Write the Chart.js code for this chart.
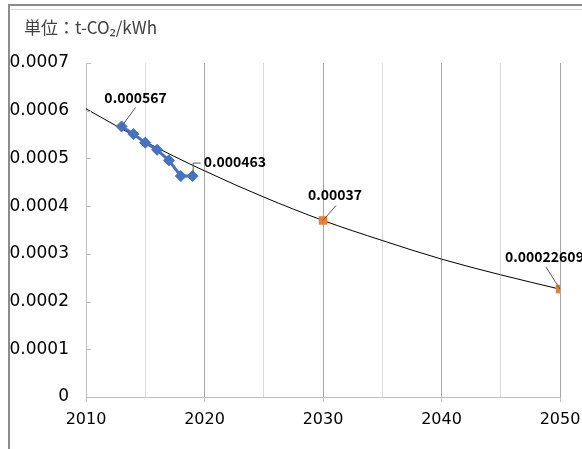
<!DOCTYPE html>
<html>
<head>
<meta charset="utf-8">
<script src="https://cdn.jsdelivr.net/npm/chart.js@4/dist/chart.umd.min.js"></script>
<style>
html,body{margin:0;padding:0;background:#fff;}
#wrap{position:relative;width:582px;height:449px;}
</style>
</head>
<body>
<div id="wrap"><canvas id="c" width="582" height="449"></canvas></div>
<script>
// Actual emission factors (blue diamonds)
const actualYears = [2013, 2014, 2015, 2016, 2017, 2018, 2019];
const actualValues = [0.000567, 0.000551, 0.000533, 0.000518, 0.000496, 0.000463, 0.000463];
// Target values (orange squares)
const targetYears = [2030, 2050];
const targetValues = [0.00037, 0.00022609];
// Trend curve
const trendYears = [2010, 2015, 2020, 2025, 2030, 2035, 2040, 2045, 2050];
const trendValues = [0.000604, 0.000535, 0.000474, 0.000419, 0.000370, 0.000328, 0.000289, 0.000256, 0.000226];
// Axis ticks
const yTicks = [0, 0.0001, 0.0002, 0.0003, 0.0004, 0.0005, 0.0006, 0.0007];
const xTickLabels = [2010, 2020, 2030, 2040, 2050];
// Data labels
const labelTexts = ['0.000567', '0.000463', '0.00037', '0.00022609'];
const unitTitle = '単位：t-CO₂/kWh';

const toXY = (xs, ys) => xs.map((x, i) => ({x: x, y: ys[i]}));

const FONT = "'Noto Sans CJK JP', 'Noto Sans', sans-serif";

const overlay = {
  id: 'overlay',
  beforeDraw(chart) {
    const c = chart.ctx;
    c.save();
    c.fillStyle = '#fff';
    c.fillRect(0, 0, chart.width, chart.height);
    // frame
    c.fillStyle = '#8c8c8c';
    c.fillRect(9, 4, chart.width - 9, 2);
    c.fillRect(8, 4, 2, chart.height - 4);
    c.fillStyle = '#d9d9d9';
    c.fillRect(11, 9, chart.width - 11, 1);
    c.restore();
  },
  afterDraw(chart) {
    const c = chart.ctx;
    const xs = chart.scales.x, ys = chart.scales.y;
    c.save();
    // title
    c.fillStyle = '#404040';
    c.font = "17px " + FONT;
    c.textBaseline = 'middle';
    c.textAlign = 'left';
    c.fillText(unitTitle, 24, 28);
    // y tick marks (inward)
    c.strokeStyle = '#bfbfbf';
    c.lineWidth = 1;
    yTicks.forEach(v => {
      const py = Math.round(ys.getPixelForValue(v)) + 0.5;
      c.beginPath();
      c.moveTo(xs.left, py);
      c.lineTo(xs.left + 5, py);
      c.stroke();
    });
    // data labels
    c.font = "bold 14px " + FONT;
    c.fillStyle = '#000';
    c.strokeStyle = '#595959';
    c.lineWidth = 1;
    const pt = (x, y) => [xs.getPixelForValue(x), ys.getPixelForValue(y)];
    // 0.000567
    let [px, py] = pt(actualYears[0], actualValues[0]);
    c.beginPath(); c.moveTo(px, py); c.lineTo(px + 14, py - 19); c.stroke();
    c.textAlign = 'center'; c.textBaseline = 'middle';
    c.fillText(labelTexts[0], px + 14, py - 29);
    // 0.000463
    [px, py] = pt(actualYears[6], actualValues[6]);
    c.beginPath(); c.moveTo(px + 0.5, py - 3); c.lineTo(px + 0.5, py - 13); c.lineTo(px + 8, py - 13); c.stroke();
    c.textAlign = 'left';
    c.fillText(labelTexts[1], px + 11, py - 14);
    // 0.00037
    [px, py] = pt(targetYears[0], targetValues[0]);
    c.beginPath(); c.moveTo(px, py); c.lineTo(px + 13, py - 15); c.stroke();
    c.textAlign = 'center';
    c.fillText(labelTexts[2], px + 12, py - 26);
    // 0.00022609
    [px, py] = pt(targetYears[1], targetValues[1]);
    c.beginPath(); c.moveTo(px, py); c.lineTo(px - 14, py - 22); c.stroke();
    c.textAlign = 'left';
    c.fillText(labelTexts[3], px - 55, py - 32);
    c.restore();
  }
};

new Chart(document.getElementById('c'), {
  type: 'scatter',
  data: {
    datasets: [
      {
        label: 'trend',
        data: toXY(trendYears, trendValues),
        showLine: true,
        borderColor: '#000',
        borderWidth: 1,
        pointRadius: 0,
        tension: 0.4,
        cubicInterpolationMode: 'monotone',
        order: 3
      },
      {
        label: 'actual',
        data: toXY(actualYears, actualValues),
        showLine: true,
        borderColor: '#4472C4',
        backgroundColor: '#4472C4',
        borderWidth: 3,
        pointStyle: 'rectRot',
        pointRadius: 5.5,
        pointBorderWidth: 1,
        tension: 0,
        order: 1
      },
      {
        label: 'target',
        data: toXY(targetYears, targetValues),
        showLine: false,
        borderColor: '#ED7D31',
        backgroundColor: '#ED7D31',
        pointStyle: 'rect',
        pointRadius: 6,
        pointBorderWidth: 0,
        order: 0
      }
    ]
  },
  options: {
    responsive: false,
    animation: false,
    devicePixelRatio: 1,
    layout: {padding: {left: 0, top: 63, right: 22, bottom: 0}},
    plugins: {legend: {display: false}, tooltip: {enabled: false}},
    scales: {
      x: {
        type: 'linear',
        min: 2010,
        max: 2050,
        afterFit(s) { s.height = 52; s.paddingRight = 0; s.paddingLeft = 0; },
        afterBuildTicks(s) {
          const t = [];
          for (let v = 2010; v <= 2050; v += 5) t.push({value: v});
          s.ticks = t;
        },
        border: {color: '#bfbfbf', width: 1},
        grid: {
          color: ctx => (ctx.tick && ctx.tick.value % 10 === 0) ? '#a6a6a6' : '#d9d9d9',
          tickColor: ctx => (ctx.tick && ctx.tick.value % 10 === 0) ? '#bfbfbf' : 'rgba(0,0,0,0)',
          tickLength: 5,
          drawTicks: true
        },
        ticks: {
          autoSkip: false,
          maxRotation: 0,
          padding: 8,
          color: '#000',
          font: {size: 16, family: "'DejaVu Sans', sans-serif"},
          callback: v => xTickLabels.includes(v) ? String(v) : ''
        }
      },
      y: {
        min: 0,
        max: 0.0007,
        afterFit(s) { s.width = 86; s.paddingTop = 0; s.paddingBottom = 0; },
        afterBuildTicks(s) { s.ticks = yTicks.map(v => ({value: v})); },
        border: {color: '#bfbfbf', width: 1},
        grid: {display: true, drawOnChartArea: false, drawTicks: false},
        ticks: {
          padding: 17,
          color: '#000',
          font: {size: 17, family: "'DejaVu Sans', sans-serif"},
          callback: v => String(Number(v.toFixed(4)))
        }
      }
    }
  },
  plugins: [overlay]
});
</script>
</body>
</html>
